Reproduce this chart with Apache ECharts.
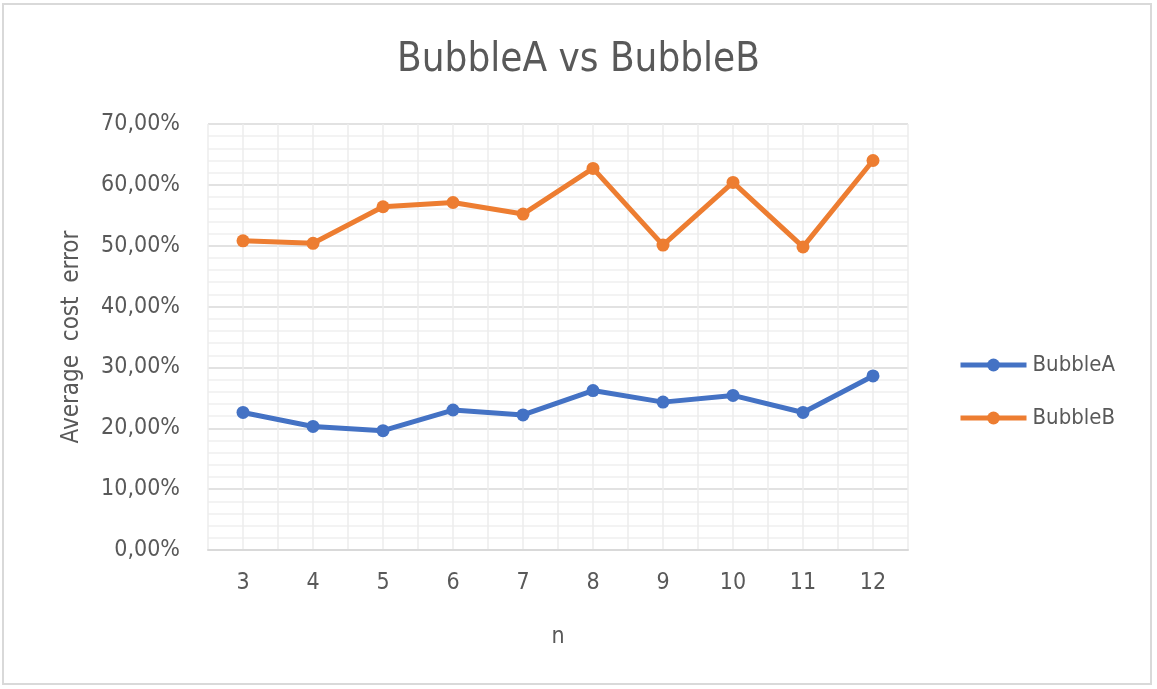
<!DOCTYPE html>
<html lang="en">
<head>
    <meta charset="utf-8">
    <title>BubbleA vs BubbleB</title>
    <script src="https://cdn.jsdelivr.net/npm/echarts@6/dist/echarts.min.js"></script>
    <style type="text/css">
        html, body {
            width: 100%;
            height: 100%;
            margin: 0px;
            padding: 0px;
            background: #fff;
        }

        #main {
            width: 1157px;
            height: 689px;
        }
    </style>
</head>
<body>
<div id="main"></div>
<script>
    // data (percent)
    var nLabels = ['3', '4', '5', '6', '7', '8', '9', '10', '11', '12'];
    var bubbleA = [22.6, 20.3, 19.6, 23.0, 22.2, 26.2, 24.3, 25.4, 22.6, 28.6];
    var bubbleB = [50.8, 50.4, 56.4, 57.1, 55.2, 62.7, 50.1, 60.4, 49.8, 64.0];

    var fontFamily = "'DejaVu Sans Condensed', 'Noto Sans', sans-serif";
    var textColor = '#595959';

    var myChart = echarts.init(document.getElementById('main'));

    var option = {
        backgroundColor: '#fff',
        animation: false,
        textStyle: {
            fontFamily: fontFamily
        },
        title: {
            text: 'BubbleA vs BubbleB',
            left: 'center',
            top: 36,
            textStyle: {
                color: textColor,
                fontSize: 40,
                fontWeight: 'normal',
                fontFamily: fontFamily
            }
        },
        legend: {
            orient: 'vertical',
            left: 953,
            top: 349,
            itemWidth: 66,
            itemHeight: 16,
            itemGap: 31,
            lineStyle: { width: 5 },
            textStyle: {
                color: textColor,
                fontSize: 22,
                padding: [0, 0, 0, 1],
                fontFamily: fontFamily
            },
            data: ['BubbleA', 'BubbleB']
        },
        grid: {
            left: 208,
            right: 249,
            top: 124,
            bottom: 139
        },
        xAxis: [{
            type: 'category',
            data: nLabels,
            boundaryGap: true,
            name: 'n',
            nameLocation: 'middle',
            nameGap: 76,
            nameTextStyle: {
                color: textColor,
                fontSize: 23,
                fontFamily: fontFamily
            },
            axisLine: {
                show: true,
                lineStyle: { color: '#d9d9d9', width: 2 }
            },
            axisTick: { show: false },
            splitLine: { show: false },
            axisLabel: {
                color: textColor,
                fontSize: 23,
                margin: 22,
                fontFamily: fontFamily
            }
        }, {
            // half-category vertical gridlines
            type: 'value',
            min: 0,
            max: 20,
            interval: 1,
            show: true,
            position: 'top',
            axisLine: { show: false },
            axisTick: { show: false },
            axisLabel: { show: false },
            splitLine: {
                show: true,
                lineStyle: { color: '#ededed', width: 1.5 }
            }
        }],
        yAxis: {
            type: 'value',
            min: 0,
            max: 70,
            interval: 10,
            name: 'Average  cost  error',
            nameLocation: 'middle',
            nameGap: 124,
            nameTextStyle: {
                color: textColor,
                fontSize: 24,
                fontFamily: fontFamily
            },
            axisLine: { show: false },
            axisTick: { show: false },
            axisLabel: {
                color: textColor,
                fontSize: 23,
                margin: 28,
                fontFamily: fontFamily,
                formatter: function (v) {
                    return v.toFixed(2).replace('.', ',') + '%';
                }
            },
            splitLine: {
                show: true,
                lineStyle: { color: '#d9d9d9', width: 1.5 }
            },
            minorTick: { show: false, splitNumber: 5 },
            minorSplitLine: {
                show: true,
                lineStyle: { color: '#efefef', width: 1.5 }
            }
        },
        series: [{
            name: 'BubbleA',
            type: 'line',
            xAxisIndex: 0,
            data: bubbleA,
            symbol: 'circle',
            symbolSize: 13,
            itemStyle: { color: '#4472c4' },
            lineStyle: { color: '#4472c4', width: 5 },
            z: 3
        }, {
            name: 'BubbleB',
            type: 'line',
            xAxisIndex: 0,
            data: bubbleB,
            symbol: 'circle',
            symbolSize: 13,
            itemStyle: { color: '#ed7d31' },
            lineStyle: { color: '#ed7d31', width: 5 },
            z: 3
        }],
        graphic: [{
            type: 'rect',
            shape: { x: 3, y: 4, width: 1148, height: 680 },
            style: { fill: 'none', stroke: '#d9d9d9', lineWidth: 2 },
            silent: true
        }]
    };

    myChart.setOption(option);
</script>
</body>
</html>
